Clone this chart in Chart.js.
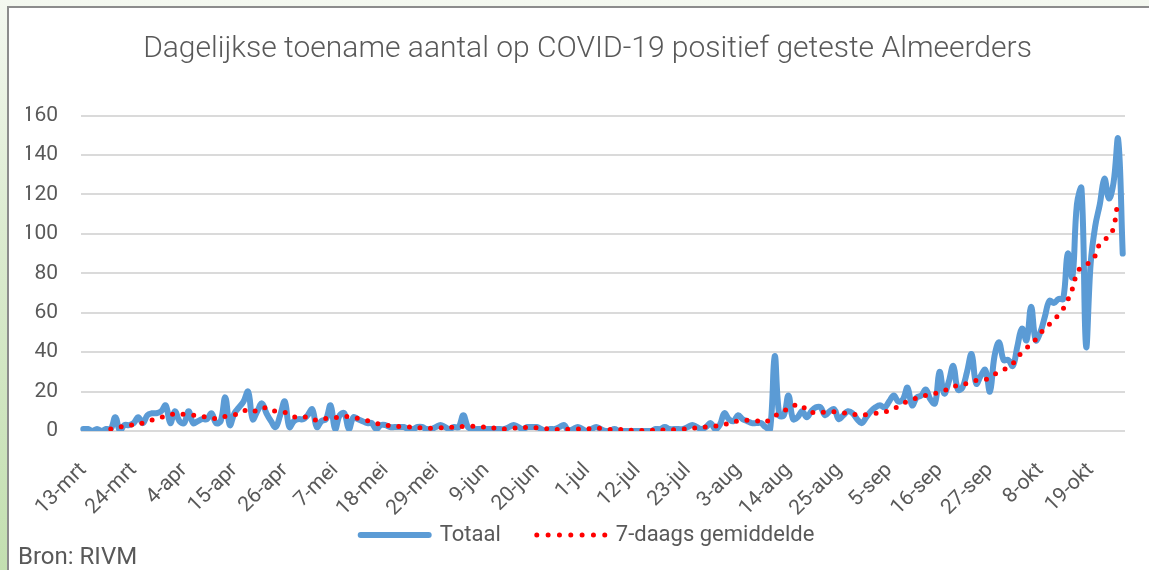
<!DOCTYPE html>
<html>
<head>
<meta charset="utf-8">
<script src="https://cdn.jsdelivr.net/npm/chart.js@4/dist/chart.umd.min.js"></script>
<style>
  html, body { margin: 0; padding: 0; width: 1149px; height: 570px; overflow: hidden; }
  body { background: linear-gradient(180deg, #f4f8f0 0%, #dcebd0 40%, #c3dfb0 100%); position: relative; font-family: Roboto, sans-serif; }
  #frame { position: absolute; left: 7px; top: 6px; width: 1142px; height: 564px; background: #fff; border-left: 2px solid #8c8c8c; border-top: 2px solid #8c8c8c; box-sizing: border-box; }
  #cv { position: absolute; left: 0; top: 0; }
  #bron { position: absolute; left: 18px; top: 542px; font-size: 24px; color: #595959; font-family: Roboto, sans-serif; }
</style>
</head>
<body>
<div id="frame"></div>
<canvas id="cv" width="1149" height="570"></canvas>
<div id="bron">Bron: RIVM</div>
<script>
// Tick labels shown on the x axis (every 11th day)
const tickLabels = ['13-mrt','24-mrt','4-apr','15-apr','26-apr','7-mei','18-mei','29-mei','9-jun','20-jun',
  '1-jul','12-jul','23-jul','3-aug','14-aug','25-aug','5-sep','16-sep','27-sep','8-okt','19-okt'];

// Daily categories 13-mrt .. 26-okt (228 days)
const monthNames = ['jan','feb','mrt','apr','mei','jun','jul','aug','sep','okt','nov','dec'];
const categories = [];
for (let d = new Date(2020, 2, 13); d <= new Date(2020, 9, 26); d.setDate(d.getDate() + 1)) {
  categories.push(d.getDate() + '-' + monthNames[d.getMonth()]);
}

// Totaal (daily new positive tests)
const totaal = [
  1,1,0,1,0,1,1,7,0,3,
  3,4,7,4,8,9,9,10,13,4,
  10,5,4,10,4,5,6,6,9,4,
  5,17,3,9,12,15,20,6,10,14,
  9,5,2,8,15,2,5,6,6,8,
  11,2,5,6,13,1,8,9,1,7,
  6,5,4,4,1,3,3,2,2,2,
  2,1,1,2,2,1,1,2,3,2,
  1,2,2,8,2,1,1,1,1,1,
  1,1,1,2,3,2,1,2,2,2,
  1,0,1,1,2,3,0,1,2,1,
  0,1,2,1,0,0,1,0,0,0,
  0,0,0,0,0,1,1,2,1,1,
  1,1,2,3,2,1,2,4,1,3,
  9,6,5,8,6,5,4,4,4,2,
  1,38,8,8,18,6,7,10,7,10,
  12,12,8,10,11,6,8,10,9,6,
  4,7,10,12,13,12,15,18,15,16,
  22,13,17,18,21,16,14,30,19,25,
  33,21,22,30,39,24,28,31,20,38,
  45,36,36,33,43,52,46,63,46,50,
  58,66,65,67,67,90,78,115,123,43,
  85,104,115,128,118,126,148,90
];

// 7-daags gemiddelde
const gemiddelde = [
  null,null,null,null,null,null,1,1.5,2,2.4,
  2.8,3.2,3.6,4,4.8,5.6,6.3,7,7.6,8.2,
  8.6,8.6,8.5,8.3,8,7.6,7.3,7,6.7,6.3,
  6.8,7.4,8,8.3,8.6,10,11,10.5,10,11,
  12,11,10,9.8,9.5,8.3,7.2,7,7,7,
  6.2,5.4,5.9,6.4,6.6,6.8,7,7.2,7.3,6.8,
  6.4,5.7,5.2,4.5,3.9,3.4,3,2.7,2.5,2.3,
  2.2,2,1.9,1.7,1.5,1.4,1.4,1.4,1.6,1.9,
  1.9,1.9,2.1,2.3,2.5,2.4,2.2,2.1,2,1.9,
  1.4,0.9,1,1.2,1.4,1.6,1.7,1.8,1.9,1.6,
  1.3,1.2,1,0.8,0.8,0.8,0.9,1,1,1,
  1,1.2,1.3,1.4,1.1,0.8,0.8,0.8,0.8,0.5,
  0.3,0.2,0.2,0.3,0.4,0.5,0.5,0.5,0.6,0.7,
  0.8,1,1.1,1.4,1.7,1.9,2,2.2,2.5,2.8,
  3.3,4,4.7,5.1,5.4,5.4,5.4,5.2,4.8,4.4,
  6.2,7.6,9,10,12,12.8,13.3,13,10,9.5,
  9.3,9.4,9.6,9.8,9.8,9.7,9.2,8.8,8.5,8.3,
  8.1,8.3,8.6,8.9,9.2,9.6,10.5,11.3,12.6,14,
  15,15.8,16.8,17.6,18,18.1,19,19.8,20.4,21.5,
  22.5,23,23.4,24.3,25.2,25.6,25.8,26,27.5,28.8,
  30,31,32.5,34.2,37,40,42.2,44,46.5,49.5,
  52,54.2,56.5,59,62,66.5,72,80,83.3,84.5,
  85.8,89,95,97,99,103,115,116
];

const seriesNames = ['Totaal', '7-daags gemiddelde'];
const yTicks = { min: 0, max: 160, step: 20 };

const textColor = '#595959';
const fontFamily = 'Roboto, sans-serif';

// Let the rotated x labels extend below the x-axis box (the legend sits beneath them)
const labelRoom = {
  id: 'labelRoom',
  afterLayout(chart) {
    chart.scales.x.bottom = chart.height;
  }
};

new Chart(document.getElementById('cv'), {
  type: 'line',
  plugins: [labelRoom],
  data: {
    labels: categories,
    datasets: [
      {
        label: seriesNames[0],
        data: totaal,
        yAxisID: 'y',
        borderColor: '#5b9bd5',
        backgroundColor: '#5b9bd5',
        borderWidth: 6,
        borderCapStyle: 'round',
        borderJoinStyle: 'round',
        tension: 0.4,
        pointRadius: 0,
        pointHoverRadius: 0,
        fill: false,
        order: 2
      },
      {
        label: seriesNames[1],
        data: gemiddelde,
        yAxisID: 'y',
        borderColor: '#ff0000',
        backgroundColor: '#ff0000',
        borderWidth: 5,
        borderDash: [0, 10.6],
        borderCapStyle: 'round',
        tension: 0.4,
        pointRadius: 0,
        pointHoverRadius: 0,
        fill: false,
        order: 1
      }
    ]
  },
  options: {
    responsive: false,
    animation: false,
    devicePixelRatio: 1,
    layout: { padding: { left: 26, right: 0, top: 0, bottom: 14 } },
    plugins: {
      title: {
        display: true,
        text: 'Dagelijkse toename aantal op COVID-19 positief geteste Almeerders',
        color: textColor,
        font: { family: fontFamily, size: 30, weight: 300, lineHeight: 1.2 },
        padding: { top: 31.8, bottom: 47.8 }
      },
      legend: {
        display: true,
        position: 'bottom',
        labels: {
          usePointStyle: true,
          pointStyleWidth: 68,
          padding: 36,
          color: textColor,
          font: { family: fontFamily, size: 22 },
          generateLabels: (chart) => chart.data.datasets.map((ds, i) => ({
            text: ds.label,
            fillStyle: ds.borderColor,
            strokeStyle: ds.borderColor,
            lineWidth: ds.borderWidth,
            lineDash: i === 1 ? [0, 11.33] : [],
            lineCap: 'round',
            pointStyle: 'line',
            fontColor: textColor,
            hidden: false,
            datasetIndex: i
          }))
        }
      },
      tooltip: { enabled: false }
    },
    scales: {
      x: {
        type: 'category',
        offset: true,
        grid: { display: false, drawTicks: false },
        border: { display: false },
        ticks: {
          autoSkip: false,
          maxRotation: 45,
          minRotation: 45,
          padding: 27,
          color: textColor,
          font: { family: fontFamily, size: 21 },
          callback: function (value, index) {
            return index % 11 === 0 ? tickLabels[index / 11] : '';
          }
        },
        afterFit: (scale) => {
          scale.height = 57;
          scale.paddingLeft = 0;
          scale.paddingRight = 0;
        }
      },
      y: {
        position: 'left',
        min: yTicks.min,
        max: yTicks.max,
        grid: { color: '#dadada', lineWidth: 2, drawTicks: false },
        border: { display: false },
        ticks: {
          stepSize: yTicks.step,
          padding: 23,
          color: textColor,
          font: { family: fontFamily, size: 21 }
        },
        afterFit: (scale) => { scale.width = 55; }
      },
      yRight: {
        position: 'right',
        display: true,
        grid: { display: false, drawTicks: false },
        border: { display: false },
        ticks: { display: false },
        afterFit: (scale) => { scale.width = 24; }
      }
    }
  }
});
</script>
</body>
</html>
